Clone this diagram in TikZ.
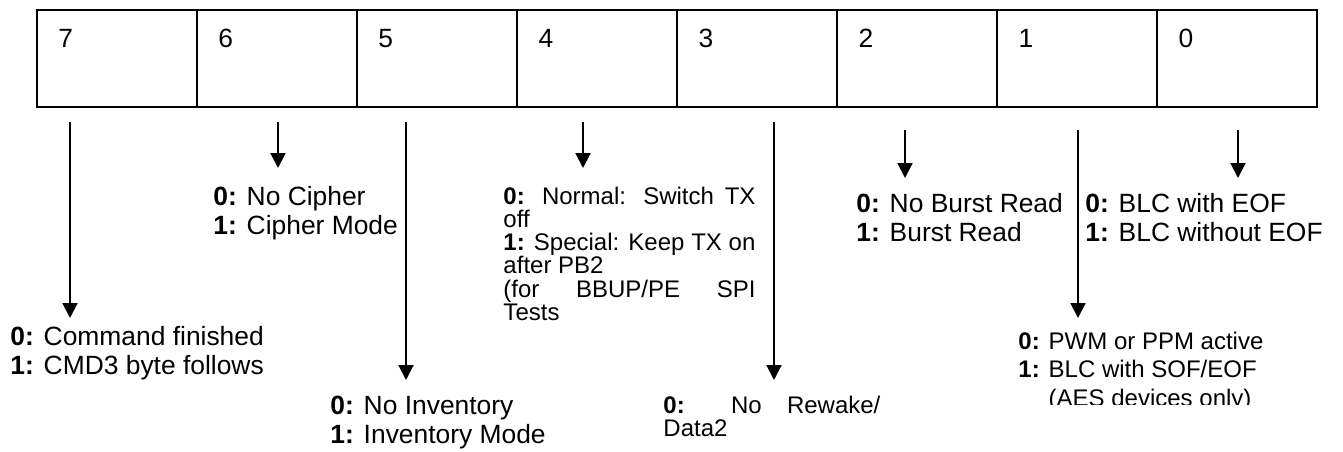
\documentclass[tikz,border=0pt]{standalone}
\usepackage{fontspec}
\setmainfont{Liberation Sans}
\usetikzlibrary{arrows.meta, positioning}
\newcommand\bitfont{\fontsize{11}{11.9}\selectfont}
\newcommand\tightfont{\fontsize{10}{9.7}\selectfont}
\newcommand\notefont{\fontsize{10}{11.7}\selectfont}

\begin{document}
\begin{tikzpicture}[x=0.41667pt, y=-0.41667pt,
    regcell/.style={draw, line width=0.8pt, minimum width=66.67pt,
      minimum height=40.42pt, inner sep=0pt, outer sep=0pt},
    bitno/.style={anchor=base west, inner sep=0pt, font=\bitfont},
    bitnote/.style={anchor=base west, inner sep=0pt, align=left},
    bitjust/.style={anchor=base west, inner sep=0pt, align=justify,
      font=\tightfont},
    bitarrow/.style={-{Triangle[length=6.2pt, width=6.2pt]},
      line width=0.85pt}]
  \useasboundingbox (0,0) rectangle (1343,451);
  % register cells, bit 7 on the left
  \node[regcell, anchor=north west] (c7) at (37,10) {};
  \node[regcell, right=0pt of c7] (c6) {};
  \node[regcell, right=0pt of c6] (c5) {};
  \node[regcell, right=0pt of c5] (c4) {};
  \node[regcell, right=0pt of c4] (c3) {};
  \node[regcell, right=0pt of c3] (c2) {};
  \node[regcell, right=0pt of c2] (c1) {};
  \node[regcell, right=0pt of c1] (c0) {};
  \node[bitno] (b7) at ([shift={(21,37)}]c7.north west) {7};
  \node[bitno] (b6) at ([shift={(21,37)}]c6.north west) {6};
  \node[bitno] (b5) at ([shift={(21,37)}]c5.north west) {5};
  \node[bitno] (b4) at ([shift={(21,37)}]c4.north west) {4};
  \node[bitno] (b3) at ([shift={(21,37)}]c3.north west) {3};
  \node[bitno] (b2) at ([shift={(21,37)}]c2.north west) {2};
  \node[bitno] (b1) at ([shift={(21,37)}]c1.north west) {1};
  \node[bitno] (b0) at ([shift={(21,37)}]c0.north west) {0};
  % arrow ends
  \coordinate (s7) at (70,122);   \coordinate (e7) at (70,318);
  \coordinate (s6) at (278,122);  \coordinate (e6) at (278,168);
  \coordinate (s5) at (406,122);  \coordinate (e5) at (406,380);
  \coordinate (s4) at (583,122);  \coordinate (e4) at (583,168);
  \coordinate (s3) at (774,122);  \coordinate (e3) at (774,380);
  \coordinate (s2) at (905,130);  \coordinate (e2) at (905,178);
  \coordinate (s1) at (1078,130); \coordinate (e1) at (1078,318);
  \coordinate (s0) at (1238,130); \coordinate (e0) at (1238,178);
  \draw[bitarrow] (s7) -- (e7);
  \draw[bitarrow] (s6) -- (e6);
  \draw[bitarrow] (s5) -- (e5);
  \draw[bitarrow] (s4) -- (e4);
  \draw[bitarrow] (s3) -- (e3);
  \draw[bitarrow] (s2) -- (e2);
  \draw[bitarrow] (s1) -- (e1);
  \draw[bitarrow] (s0) -- (e0);
  % bit descriptions (base anchor sits on the last line)
  \node[bitnote, font=\bitfont] (d7) at (10,374)
    {\textbf{0:} Command finished\\\textbf{1:} CMD3 byte follows};
  \node[bitnote, font=\bitfont] (d6) at (213,234)
    {\textbf{0:} No Cipher\\\textbf{1:} Cipher Mode};
  \node[bitnote, font=\bitfont] (d5) at (330,443)
    {\textbf{0:} No Inventory\\\textbf{1:} Inventory Mode};
  \node[bitjust, text width=105pt] (d4) at (503,204)
    {\textbf{0:} Normal: Switch TX\linebreak off\\
     \textbf{1:} Special: Keep TX on\linebreak after PB2\\
     (for BBUP/PE SPI\linebreak Tests};
  \node[bitjust, text width=90.4pt] (d3) at (663,413)
    {\textbf{0:} No Rewake/\linebreak Data2};
  \node[bitnote, font=\bitfont] (d2) at (856,241)
    {\textbf{0:} No Burst Read\\\textbf{1:} Burst Read};
  \begin{scope}
    \clip (990,320) rectangle (1343,404);
    \node[bitnote, font=\notefont] (d1) at (1018,406)
      {\textbf{0:} PWM or PPM active\\\textbf{1:} BLC with SOF/EOF\\
       \phantom{\textbf{1:} }(AES devices only)};
  \end{scope}
  \node[bitnote, font=\bitfont] (d0) at (1085,241)
    {\textbf{0:} BLC with EOF\\\textbf{1:} BLC without EOF};
\end{tikzpicture}
\end{document}
